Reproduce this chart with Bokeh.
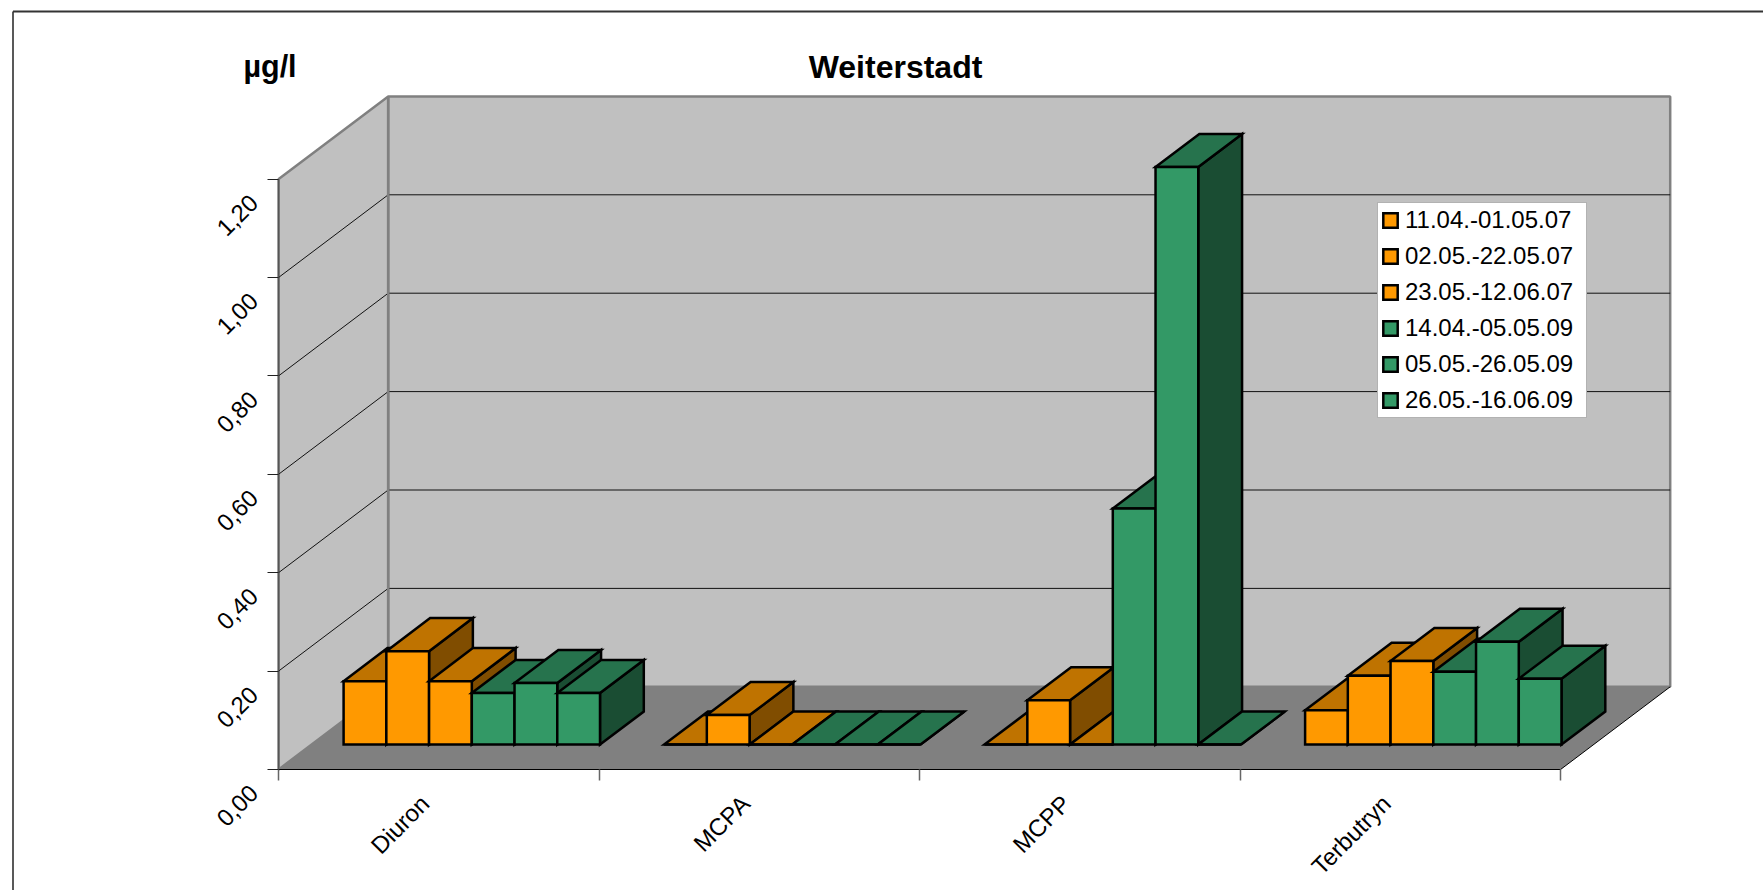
from math import pi
from bokeh.plotting import figure
from bokeh.embed import file_html
from bokeh.resources import INLINE
from bokeh.core.properties import value
from bokeh.models import LinearAxis, FixedTicker, Legend, LegendItem, Range1d

categories = ["Diuron", "MCPA", "MCPP", "Terbutryn"]
series_names = ["11.04.-01.05.07", "02.05.-22.05.07", "23.05.-12.06.07",
                "14.04.-05.05.09", "05.05.-26.05.09", "26.05.-16.06.09"]
s1 = [0.129, 0.0, 0.0, 0.070]
s2 = [0.190, 0.060, 0.090, 0.140]
s3 = [0.129, 0.0, 0.0, 0.170]
s4 = [0.105, 0.0, 0.480, 0.148]
s5 = [0.125, 0.0, 1.174, 0.209]
s6 = [0.105, 0.0, 0.0, 0.134]
series_values = [s1, s2, s3, s4, s5, s6]
y_ticks = [0.0, 0.2, 0.4, 0.6, 0.8, 1.0, 1.2]
y_labels = ["0,00", "0,20", "0,40", "0,60", "0,80", "1,00", "1,20"]

FRONT = ["#FF9900"] * 3 + ["#339966"] * 3
TOP = ["#BF7300"] * 3 + ["#26734D"] * 3
SIDE = ["#804D00"] * 3 + ["#1A4D33"] * 3

W, H = 1763, 890
PX_CAT, PX_VAL = 320.5, 492.0          # px per category, px per unit value
X0, Y0 = 278.2, 768.9                  # page position of category 0 / value 0
DX, DY = 109.5 / PX_CAT, 82.6 / PX_VAL  # oblique shift of the full depth
FONT = value("Liberation Sans")

xr = Range1d((0 - X0) / PX_CAT, (W - X0) / PX_CAT)
yr = Range1d((Y0 - H) / PX_VAL, Y0 / PX_VAL)

p = figure(width=W, height=H, x_range=xr, y_range=yr, x_axis_type=None, y_axis_type=None,
           output_backend="svg", toolbar_location=None, min_border=0, outline_line_color=None,
           background_fill_color="white", border_fill_color="white")
p.grid.visible = False


def X(u, d=0.0):
    return u + d * DX


def Y(v, d=0.0):
    return v + d * DY


def page_x(x):
    return (x - X0) / PX_CAT


def page_y(y):
    return (Y0 - y) / PX_VAL


# chart-area border (runs off the right and bottom of the page)
bx, by = page_x(12.5), page_y(11)
p.line([bx, bx], [by, page_y(900)], line_color="#222222", line_width=1.5)
p.line([bx, page_x(1790)], [by, by], line_color="#333333", line_width=2)

# walls and floor
top = y_ticks[-1]
n = len(categories)
p.patch([X(0), X(0), X(0, 1), X(0, 1)], [Y(0), Y(top), Y(top, 1), Y(0, 1)],
        fill_color="#C0C0C0", line_color="#808080", line_width=2.5)
p.patch([X(0, 1), X(0, 1), X(n, 1), X(n, 1)], [Y(0, 1), Y(top, 1), Y(top, 1), Y(0, 1)],
        fill_color="#C0C0C0", line_color="#808080", line_width=2.5)
p.patch([X(0), X(n), X(n, 1), X(0, 1)], [Y(0), Y(0), Y(0, 1), Y(0, 1)],
        fill_color="#808080", line_color=None)
p.line([X(n), X(n, 1)], [Y(0), Y(0, 1)], line_color="black", line_width=1)

# gridlines on left and back wall
for v in y_ticks[1:-1]:
    p.line([X(0), X(0, 1), X(n, 1)], [Y(v), Y(v, 1), Y(v, 1)], line_color="#111111", line_width=1)
p.line([X(0, 1), X(0, 1)], [Y(0, 1), Y(top, 1)], line_color="#808080", line_width=2.5)

# bars: six per category, leaving a gap of 0.2 category, depth 0.3..0.7
BAR_W = 0.8 / 6
D0, D1 = 0.3, 0.7
items = []
for i, vals in enumerate(series_values):
    lefts = [c + 0.1 + i * BAR_W for c in range(n)]
    side_x, side_y, top_x, top_y = [], [], [], []
    for l, v in zip(lefts, vals):
        r = l + BAR_W
        side_x.append([X(r, D0), X(r, D1), X(r, D1), X(r, D0)])
        side_y.append([Y(0, D0), Y(0, D1), Y(v, D1), Y(v, D0)])
        top_x.append([X(l, D0), X(r, D0), X(r, D1), X(l, D1)])
        top_y.append([Y(v, D0), Y(v, D0), Y(v, D1), Y(v, D1)])
    style = dict(line_color="black", line_width=2.5, line_join="miter")
    p.patches(side_x, side_y, fill_color=SIDE[i], **style)
    p.patches(top_x, top_y, fill_color=TOP[i], **style)
    front = p.vbar(x=[X(l + BAR_W / 2, D0) for l in lefts], width=BAR_W,
                   bottom=[Y(0, D0)] * n, top=[Y(v, D0) for v in vals],
                   fill_color=FRONT[i], **style)
    items.append(LegendItem(label=series_names[i], renderers=[front]))

# axes: placed inside the page, tick marks from the scales
yax = LinearAxis(fixed_location=0, bounds=(0, top),
                 ticker=FixedTicker(ticks=[], minor_ticks=y_ticks),
                 axis_line_color="#555555", axis_line_width=1.5,
                 minor_tick_line_color="#222222", minor_tick_out=11, minor_tick_in=0, minor_tick_line_width=1)
p.add_layout(yax, "left")
xax = LinearAxis(fixed_location=0, bounds=(0, n),
                 ticker=FixedTicker(ticks=[], minor_ticks=list(range(n + 1))),
                 axis_line_color="black", axis_line_width=1,
                 minor_tick_line_color="#666666", minor_tick_out=11, minor_tick_in=0, minor_tick_line_width=1.5)
p.add_layout(xax, "below")

# rotated tick labels
p.text(x=[0] * len(y_ticks), y=y_ticks, text=y_labels, angle=pi / 4, text_align="right",
       text_baseline="middle", x_offset=-25, y_offset=19.5, text_font=FONT, text_font_size="24px",
       text_color="black")
p.text(x=[c + 0.5 for c in range(n)], y=[0] * n, text=categories, angle=pi / 4, text_align="right",
       text_baseline="middle", x_offset=-14, y_offset=30, text_font=FONT, text_font_size="24px",
       text_color="black")

# title and unit
p.text(x=[page_x(895)], y=[page_y(66)], text=["Weiterstadt"], text_align="center", text_baseline="middle",
       text_font=FONT, text_font_size="32px", text_font_style="bold", text_color="black")
p.text(x=[page_x(269.5)], y=[page_y(65)], text=["µg/l"], text_align="center", text_baseline="middle",
       text_font=FONT, text_font_size="30.5px", text_font_style="bold", text_color="black")

legend = Legend(items=items, location=(1377, 472), orientation="vertical", margin=0,
                padding=3, spacing=8, glyph_width=18, glyph_height=18, label_standoff=6,
                label_text_font="Liberation Sans", label_text_font_size="24px", label_height=26,
                label_width=178, label_text_baseline="middle", label_text_color="black",
                background_fill_color="white", background_fill_alpha=1,
                border_line_color="#666666", border_line_width=1.5)
p.add_layout(legend, "center")

open("out.html", "w").write(file_html(p, INLINE))
